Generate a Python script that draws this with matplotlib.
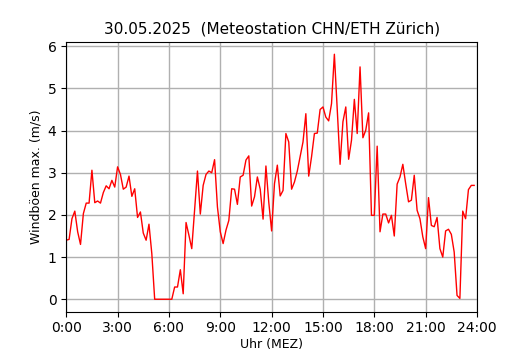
import matplotlib
matplotlib.use("Agg")
import matplotlib.pyplot as plt
import numpy as np

# 10-minute values of max wind gust (m/s), 00:00 .. 23:50
gusts = [
    1.40, 1.42, 1.91, 2.09, 1.60, 1.30, 2.03, 2.28, 2.28, 3.06,
    2.29, 2.33, 2.28, 2.53, 2.69, 2.62, 2.82, 2.66, 3.14, 2.96,
    2.61, 2.66, 2.92, 2.44, 2.62, 1.94, 2.07, 1.57, 1.40, 1.78,
    1.08, 0.00, 0.00, 0.00, 0.00, 0.00, 0.00, 0.00, 0.29, 0.29,
    0.70, 0.13, 1.82, 1.52, 1.20, 2.11, 3.04, 2.02, 2.70, 2.96,
    3.04, 3.00, 3.31, 2.19, 1.60, 1.32, 1.64, 1.87, 2.62, 2.61,
    2.25, 2.90, 2.94, 3.30, 3.40, 2.21, 2.43, 2.90, 2.61, 1.90,
    3.16, 2.30, 1.62, 2.74, 3.18, 2.45, 2.58, 3.93, 3.73, 2.61,
    2.78, 3.04, 3.38, 3.73, 4.40, 2.92, 3.38, 3.93, 3.94, 4.50,
    4.56, 4.32, 4.23, 4.64, 5.81, 4.50, 3.20, 4.21, 4.56, 3.32,
    3.77, 4.74, 3.93, 5.51, 3.83, 4.01, 4.42, 1.99, 1.99, 3.63,
    1.60, 2.02, 2.02, 1.81, 1.99, 1.50, 2.73, 2.90, 3.20, 2.74,
    2.31, 2.35, 2.94, 2.11, 1.91, 1.48, 1.20, 2.41, 1.75, 1.72,
    1.94, 1.20, 1.00, 1.62, 1.66, 1.54, 1.12, 0.09, 0.02, 2.09,
    1.91, 2.60, 2.70, 2.70,
]
hours = [i / 6 for i in range(len(gusts))]

tick_hours = [0, 3, 6, 9, 12, 15, 18, 21, 24]
tick_labels = ["0:00", "3:00", "6:00", "9:00", "12:00", "15:00", "18:00", "21:00", "24:00"]

fig, ax = plt.subplots(figsize=(5.3, 3.5), dpi=100)
ax.plot(hours, gusts, color="red", linewidth=1.0)
ax.set_xlim(0, 24)
ax.set_xticks(tick_hours)
ax.set_xticklabels(tick_labels)
ax.grid(True, color="#b0b0b0", linewidth=1.0)
ax.set_axisbelow(True)
ax.set_title("30.05.2025  (Meteostation CHN/ETH Zürich)", fontsize=11)
ax.set_xlabel("Uhr (MEZ)", fontsize=9, labelpad=2)
ax.set_ylabel("Windböen max. (m/s)", fontsize=9)
fig.savefig("out.png", dpi=100)
